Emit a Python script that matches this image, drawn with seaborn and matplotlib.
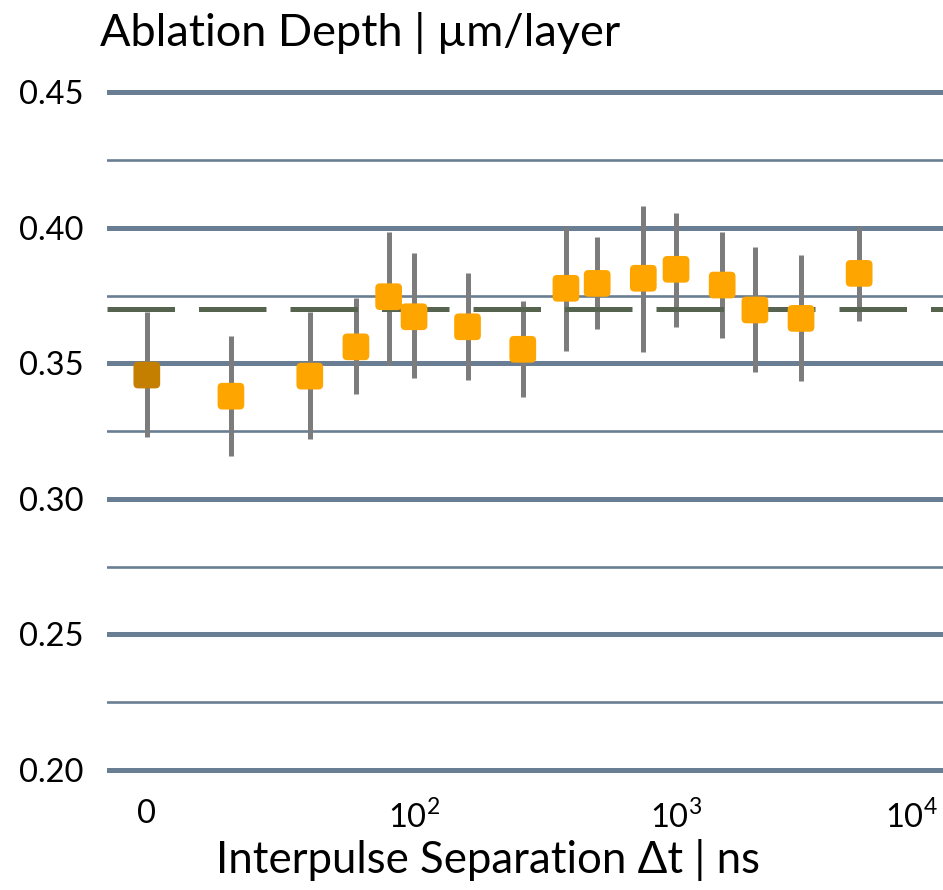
import numpy as np
import pandas as pd
import matplotlib
matplotlib.use("Agg")
import matplotlib.pyplot as plt
from matplotlib.path import Path
import seaborn as sns

# ---- data ----
delay_ns = [0, 20, 40, 60, 80, 100, 160, 260, 380, 500, 750, 1000, 1500, 2000, 3000, 5000]
depth = [0.3457, 0.3379, 0.3453, 0.3561, 0.3746, 0.3672, 0.3635, 0.3552,
         0.3777, 0.3795, 0.3814, 0.3847, 0.3789, 0.3697, 0.3666, 0.3832]
err_low = [0.3229, 0.3158, 0.3220, 0.3387, 0.3494, 0.3445, 0.3438, 0.3375,
           0.3546, 0.3625, 0.3543, 0.3635, 0.3592, 0.3467, 0.3436, 0.3657]
err_high = [0.3690, 0.3601, 0.3690, 0.3740, 0.3985, 0.3906, 0.3832, 0.3731,
            0.4002, 0.3965, 0.4080, 0.4056, 0.3986, 0.3930, 0.3900, 0.4004]
reference_depth = 0.370
y_major_ticks = [0.20, 0.25, 0.30, 0.35, 0.40, 0.45]
y_minor_ticks = [0.225, 0.275, 0.325, 0.375, 0.425]
x_tick_values = [0, 100, 1000, 10000]
x_tick_labels = ["0", "$10^2$", "$10^3$", "$10^4$"]

ZERO_POS = 0.98  # axis position used for the Δt = 0 sample (log10 axis)


def axis_pos(ns):
    ns = np.asarray(ns, dtype=float)
    out = np.full(ns.shape, ZERO_POS)
    pos = ns > 0
    out[pos] = np.log10(ns[pos])
    return out


df = pd.DataFrame({
    "delay": delay_ns,
    "pos": axis_pos(delay_ns),
    "depth": depth,
    "lo": err_low,
    "hi": err_high,
})
df["group"] = np.where(df["delay"] == 0, "zero", "pulse")

# rounded-square marker
r = 0.35
verts = [(-1 + r, -1), (1 - r, -1), (1, -1), (1, -1 + r), (1, 1 - r), (1, 1), (1 - r, 1),
         (-1 + r, 1), (-1, 1), (-1, 1 - r), (-1, -1 + r), (-1, -1), (-1 + r, -1), (-1 + r, -1)]
codes = [Path.MOVETO, Path.LINETO, Path.CURVE3, Path.CURVE3, Path.LINETO, Path.CURVE3, Path.CURVE3,
         Path.LINETO, Path.CURVE3, Path.CURVE3, Path.LINETO, Path.CURVE3, Path.CURVE3, Path.CLOSEPOLY]
rounded_square = Path(verts, codes)

sns.set_theme(style="white")
plt.rcParams["font.family"] = ["Lato", "DejaVu Sans"]
plt.rcParams["mathtext.fontset"] = "custom"
plt.rcParams["mathtext.rm"] = "Lato"
plt.rcParams["text.color"] = "black"

W, H = 943, 890
fig = plt.figure(figsize=(W / 100, H / 100), dpi=100)

ylo, yhi = 0.195, 0.455
# pixel geometry: 0.45 at y=92.3, 0.20 at y=770
ppu = (770 - 92.3) / 0.25
top_px = 92.3 - (yhi - 0.45) * ppu
bot_px = 770 + (0.20 - ylo) * ppu
ax = fig.add_axes([107 / W, 1 - bot_px / H, (W - 107) / W, (bot_px - top_px) / H])

grid_col = "#6a7e93"
for v in y_major_ticks:
    ax.axhline(v, color=grid_col, lw=3.6, zorder=1)
for v in y_minor_ticks:
    ax.axhline(v, color=grid_col, lw=1.9, zorder=1)

ax.vlines(df["pos"], df["lo"], df["hi"], color="#7c7c7c", lw=3.6, zorder=2)
ax.axhline(reference_depth, color="#56644f", lw=3.6, ls=(0, (13.5, 4.8)), zorder=2.5)

sns.scatterplot(data=df, x="pos", y="depth", hue="group",
                palette={"zero": "#c47f00", "pulse": "#ffa500"},
                marker=rounded_square, s=370, linewidth=0, legend=False,
                zorder=3, ax=ax)

ax.set_xlim(0.828, 4.019)
ax.set_ylim(ylo, yhi)
ax.set_yticks(y_major_ticks)
ax.set_yticklabels([f"{v:.2f}" for v in y_major_ticks])
ax.set_xticks(axis_pos(x_tick_values))
ax.set_xticklabels(x_tick_labels)
ax.get_xticklabels()[-1].set_horizontalalignment("right")
ax.tick_params(axis="y", length=0, pad=17, labelsize=23.5, colors="black")
ax.tick_params(axis="x", length=0, pad=11, labelsize=23.5, colors="black")
for s in ax.spines.values():
    s.set_visible(False)
ax.set_xlabel("")
ax.set_ylabel("")
ax.grid(False)

fig.text(100 / W, 1 - 33 / H, "Ablation Depth | µm/layer", fontsize=32.5,
         va="center", ha="left", color="black")
fig.text(488 / W, 1 - 860 / H, "Interpulse Separation Δt | ns", fontsize=31.5,
         va="center", ha="center", color="black")

fig.savefig("out.png", dpi=100)
